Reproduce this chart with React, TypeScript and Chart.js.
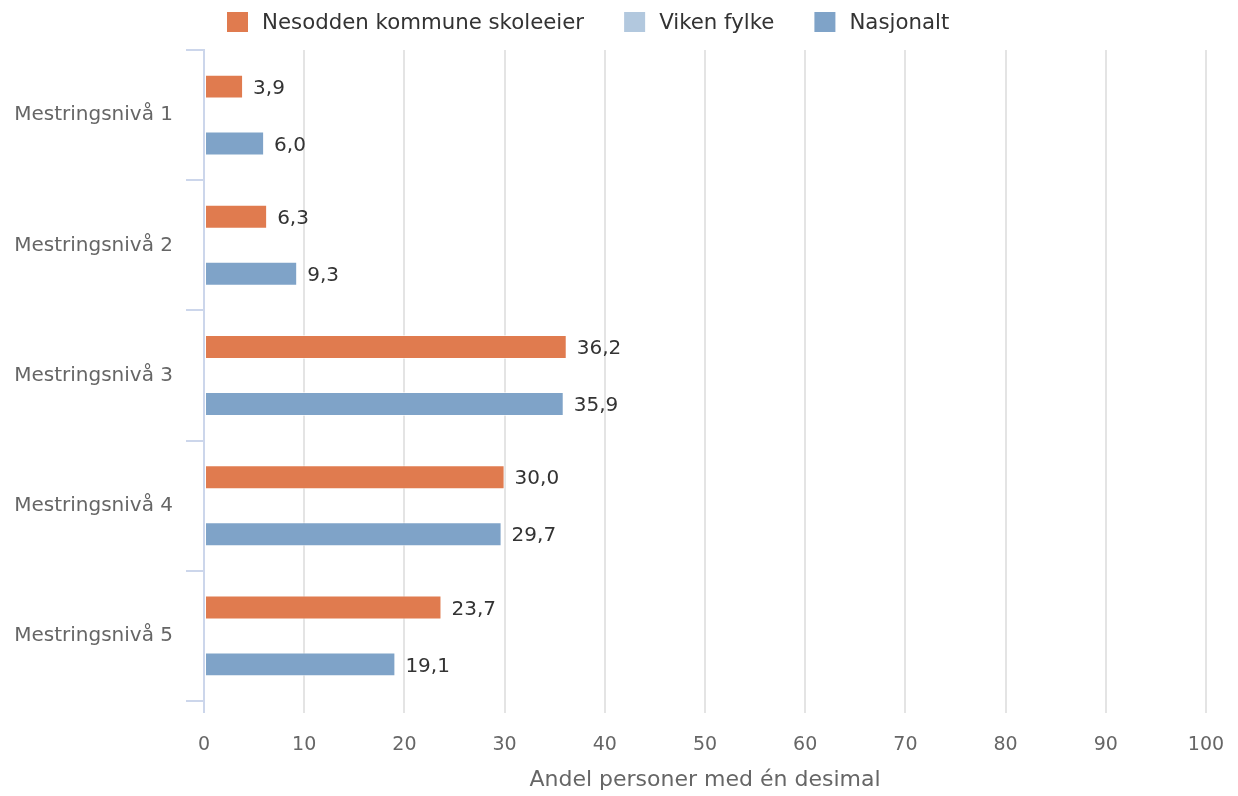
import React, { useEffect, useRef } from 'react';
import { Chart, registerables } from 'chart.js';

Chart.register(...registerables);

const categories = ['Mestringsnivå 1', 'Mestringsnivå 2', 'Mestringsnivå 3', 'Mestringsnivå 4', 'Mestringsnivå 5'];
const seriesNames = ['Nesodden kommune skoleeier', 'Viken fylke', 'Nasjonalt'];
const nesoddenValues: (number | null)[] = [3.9, 6.3, 36.2, 30.0, 23.7];
const vikenValues: (number | null)[] = [null, null, null, null, null];
const nasjonaltValues: (number | null)[] = [6.0, 9.3, 35.9, 29.7, 19.1];
const xTickValues = [0, 10, 20, 30, 40, 50, 60, 70, 80, 90, 100];
const xAxisTitle = 'Andel personer med én desimal';

const seriesColors = ['#e07b4f', '#b2c8de', '#7fa3c8'];
const FONT = '"DejaVu Sans", sans-serif';

const fmt = (v: number) => v.toFixed(1).replace('.', ',');

const dataLabelPlugin = {
  id: 'dataLabels',
  afterDatasetsDraw(chart: any) {
    const ctx = chart.ctx;
    ctx.save();
    ctx.font = `20px ${FONT}`;
    ctx.fillStyle = '#333333';
    ctx.textAlign = 'left';
    ctx.textBaseline = 'middle';
    chart.data.datasets.forEach((ds: any, di: number) => {
      const meta = chart.getDatasetMeta(di);
      meta.data.forEach((el: any, i: number) => {
        const v = ds.data[i];
        if (v === null || v === undefined) return;
        ctx.fillText(fmt(v), el.x + 10, el.y + 2);
      });
    });
    ctx.restore();
  },
};

const legendPlugin = {
  id: 'customLegend',
  afterDraw(chart: any) {
    const ctx = chart.ctx;
    ctx.save();
    ctx.font = `21.3px ${FONT}`;
    ctx.textBaseline = 'middle';
    ctx.textAlign = 'left';
    let x = 227;
    chart.data.datasets.forEach((ds: any) => {
      ctx.fillStyle = ds.backgroundColor;
      ctx.fillRect(x, 12, 21, 20);
      ctx.fillStyle = '#333333';
      ctx.fillText(ds.label, x + 35, 23);
      x += 35 + ctx.measureText(ds.label).width + 40;
    });
    ctx.restore();
  },
};

export default function App() {
  const ref = useRef<HTMLCanvasElement | null>(null);

  useEffect(() => {
    if (!ref.current) return;
    const seriesData = [nesoddenValues, vikenValues, nasjonaltValues];
    const chart = new Chart(ref.current, {
      type: 'bar',
      data: {
        labels: categories,
        datasets: seriesNames.map((name, i) => ({
          label: name,
          data: seriesData[i],
          backgroundColor: seriesColors[i],
          borderColor: 'rgba(255,255,255,0.6)',
          borderWidth: 1,
          borderSkipped: false,
          categoryPercentage: 0.656,
          barPercentage: 0.84,
        })),
      },
      options: {
        indexAxis: 'y',
        animation: false,
        responsive: false,
        layout: { padding: { top: 50, right: 32, bottom: 0, left: 0 } },
        plugins: {
          legend: { display: false },
          tooltip: { enabled: false },
        },
        scales: {
          x: {
            type: 'linear',
            min: 0,
            max: 100,
            afterBuildTicks: (scale: any) => {
              scale.ticks = xTickValues.map((v) => ({ value: v }));
            },
            afterFit: (scale: any) => {
              scale.height = 95;
              scale.paddingRight = 0;
              scale.paddingLeft = 0;
            },
            grid: {
              color: (c: any) => (c.index === 0 ? '#ccd6eb' : '#e4e4e4'),
              lineWidth: 2,
              tickLength: 12,
            },
            border: { display: false },
            ticks: {
              color: '#666666',
              font: { family: FONT, size: 19 },
              padding: 21,
              maxRotation: 0,
            },
            title: {
              display: true,
              text: xAxisTitle,
              color: '#666666',
              font: { family: FONT, size: 22 },
              padding: { top: 0, bottom: 3 },
            },
          },
          y: {
            type: 'category',
            offset: true,
            afterFit: (scale: any) => {
              scale.width = 204;
            },
            grid: {
              offset: true,
              drawOnChartArea: false,
              drawTicks: true,
              tickLength: 18,
              lineWidth: 2,
              color: '#ccd6eb',
            },
            border: { display: true, color: '#ccd6eb', width: 2 },
            ticks: {
              color: '#666666',
              font: { family: FONT, size: 20 },
              padding: 13,
            },
          },
        },
      },
      plugins: [dataLabelPlugin, legendPlugin],
    });
    return () => chart.destroy();
  }, []);

  return (
    <div style={{ position: 'fixed', left: 0, top: 0, width: 1238, height: 796, background: '#ffffff' }}>
      <canvas ref={ref} width={1238} height={796} style={{ display: 'block' }} />
    </div>
  );
}
